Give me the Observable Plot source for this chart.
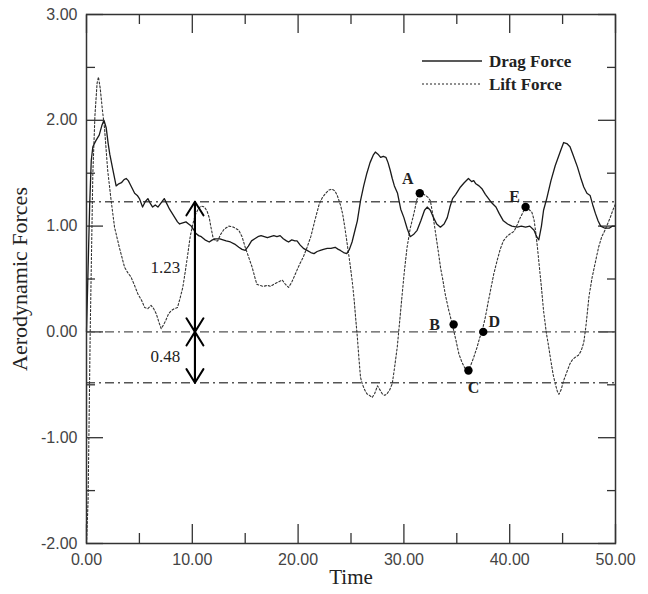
<!DOCTYPE html>
<html>
<head>
<meta charset="utf-8">
<script src="https://cdn.jsdelivr.net/npm/d3@7"></script>
<script src="https://cdn.jsdelivr.net/npm/@observablehq/plot@0.6"></script>
<style>
  html, body { margin: 0; padding: 0; background: #fff; }
  #chart { width: 648px; height: 594px; }
</style>
</head>
<body>
<div id="chart"></div>
<script>
// ---------- data ----------
const dragT = [0,0.15,0.3,0.45,0.6,0.9,1.2,1.45,1.65,1.86,2.05,2.2,2.5,2.8,3.05,3.3,3.55,3.75,3.95,4.1,4.35,4.55,4.8,5.0,5.15,5.3,5.55,5.8,6.0,6.25,6.5,6.75,7.05,7.35,7.6,7.85,8.1,8.35,8.6,8.8,9.1,9.4,9.65,9.9,10.1,10.35,10.6,10.85,11.2,11.6,11.9,12.2,12.6,12.9,13.2,13.6,14.0,14.4,14.7,15.0,15.3,15.6,15.9,16.2,16.5,16.8,17.1,17.4,17.7,18.0,18.3,18.6,18.9,19.1,19.4,19.7,19.9,20.2,20.5,20.85,21.2,21.5,21.8,22.1,22.4,22.75,23.1,23.5,23.8,24.0,24.3,24.6,24.85,25.1,25.4,25.6,25.9,26.2,26.5,26.8,27.1,27.3,27.55,27.8,28.05,28.3,28.5,28.7,28.9,29.1,29.4,29.7,30.0,30.3,30.6,30.9,31.25,31.6,31.95,32.2,32.5,32.8,33.1,33.45,33.8,34.1,34.35,34.6,34.9,35.35,35.7,36.1,36.4,36.6,36.8,37.1,37.4,37.7,38.0,38.3,38.7,39.0,39.4,39.8,40.2,40.7,41.1,41.5,41.9,42.3,42.55,42.75,43.0,43.2,43.5,43.9,44.3,44.8,45.1,45.4,45.7,46.0,46.4,46.7,47.0,47.3,47.6,47.85,48.1,48.35,48.6,49.0,49.4,49.7,50];
const dragV = [0,0.6,1.2,1.62,1.75,1.81,1.86,1.95,2.0,1.93,1.78,1.68,1.53,1.38,1.40,1.41,1.44,1.45,1.43,1.40,1.35,1.31,1.29,1.26,1.22,1.18,1.23,1.26,1.22,1.18,1.20,1.18,1.22,1.26,1.21,1.16,1.12,1.08,1.04,1.02,1.03,1.04,1.02,1.00,0.97,0.93,0.91,0.90,0.87,0.85,0.87,0.88,0.88,0.87,0.86,0.85,0.83,0.80,0.78,0.77,0.81,0.86,0.88,0.90,0.91,0.90,0.89,0.90,0.91,0.90,0.91,0.88,0.86,0.85,0.87,0.86,0.86,0.82,0.79,0.77,0.75,0.74,0.76,0.77,0.78,0.79,0.79,0.80,0.78,0.77,0.75,0.74,0.78,0.85,0.97,1.05,1.24,1.38,1.50,1.60,1.67,1.70,1.68,1.65,1.66,1.65,1.60,1.53,1.45,1.38,1.31,1.16,1.08,0.98,0.90,0.92,0.96,1.05,1.15,1.18,1.15,1.08,1.02,0.99,1.02,1.08,1.18,1.26,1.30,1.37,1.41,1.45,1.42,1.43,1.40,1.38,1.35,1.30,1.26,1.22,1.18,1.12,1.05,1.02,1.00,0.99,1.00,0.99,1.00,0.96,0.90,0.87,1.00,1.15,1.26,1.43,1.57,1.71,1.79,1.78,1.75,1.67,1.56,1.46,1.37,1.31,1.29,1.20,1.12,1.05,1.00,0.98,0.98,1.00,1.00];

const liftT = [0,0.15,0.25,0.35,0.45,0.6,0.8,1.0,1.13,1.3,1.5,1.7,2.0,2.33,2.65,3.1,3.6,3.9,4.2,4.5,4.85,5.2,5.5,5.8,6.1,6.35,6.6,6.85,7.06,7.3,7.5,7.75,8.0,8.3,8.6,8.85,9.1,9.35,9.58,9.8,10.05,10.3,10.5,10.8,11.15,11.4,11.6,11.8,11.94,12.2,12.4,12.67,13.0,13.45,13.9,14.4,14.7,15.0,15.35,15.66,15.9,16.1,16.4,16.7,17.1,17.4,17.7,18.1,18.5,18.8,19.1,19.4,19.75,20.1,20.5,20.85,21.2,21.6,22.0,22.3,22.6,22.9,23.2,23.5,23.7,24.0,24.2,24.4,24.6,24.8,24.95,25.15,25.3,25.45,25.6,25.75,25.9,26.06,26.3,26.5,26.75,27.0,27.25,27.5,27.75,27.95,28.2,28.4,28.65,28.9,29.1,29.37,29.6,29.84,30.05,30.3,30.6,30.95,31.2,31.4,31.7,32.04,32.3,32.5,32.75,33.0,33.25,33.46,33.7,33.9,34.2,34.56,34.9,35.2,35.5,35.75,36.0,36.3,36.6,36.9,37.15,37.4,37.7,38.0,38.2,38.5,38.8,39.1,39.4,39.8,40.1,40.4,40.7,41.0,41.3,41.5,41.8,42.1,42.3,42.45,42.6,42.75,43.0,43.2,43.45,43.7,43.9,44.1,44.3,44.5,44.65,44.85,45.1,45.4,45.7,45.95,46.2,46.5,46.75,47.0,47.2,47.5,47.8,48.1,48.4,48.7,49.0,49.25,49.5,49.75,50];
const liftV = [-2.0,-1.6,-0.8,0.0,0.6,1.5,2.05,2.35,2.41,2.3,2.1,1.93,1.53,1.24,0.99,0.80,0.61,0.56,0.52,0.45,0.36,0.30,0.23,0.22,0.25,0.22,0.17,0.09,0.03,0.07,0.11,0.17,0.20,0.22,0.23,0.32,0.42,0.58,0.74,0.90,1.02,1.11,1.15,1.19,1.18,1.14,1.08,0.97,0.90,0.86,0.86,0.92,0.97,1.00,0.99,0.96,0.90,0.80,0.70,0.61,0.52,0.45,0.44,0.43,0.44,0.43,0.45,0.47,0.49,0.45,0.42,0.47,0.55,0.63,0.71,0.80,0.90,1.06,1.21,1.27,1.31,1.34,1.35,1.33,1.29,1.20,1.12,1.00,0.86,0.72,0.61,0.45,0.30,0.12,-0.05,-0.25,-0.43,-0.49,-0.55,-0.585,-0.60,-0.62,-0.58,-0.51,-0.55,-0.585,-0.60,-0.585,-0.55,-0.49,-0.35,-0.145,0.10,0.36,0.58,0.80,0.98,1.12,1.24,1.31,1.31,1.29,1.27,1.24,1.10,0.93,0.76,0.61,0.48,0.36,0.22,0.076,-0.07,-0.21,-0.29,-0.34,-0.365,-0.32,-0.24,-0.15,-0.06,0.01,0.14,0.30,0.40,0.55,0.67,0.78,0.86,0.91,0.93,0.95,1.01,1.08,1.14,1.17,1.16,1.13,1.06,0.95,0.82,0.67,0.42,0.20,0.00,-0.15,-0.28,-0.40,-0.49,-0.56,-0.59,-0.55,-0.46,-0.38,-0.30,-0.26,-0.24,-0.22,-0.18,-0.10,0.05,0.34,0.52,0.66,0.80,0.90,0.96,1.02,1.08,1.15,1.21];

const refLevels = [1.23, 0, -0.48];
const arrowT = 10.25;
const gapLabels = ["1.23", "0.48"];
const gapLabelT = [7.45, 7.45];
const gapLabelV = [0.61, -0.23];

const pointNames = ["A", "B", "C", "D", "E"];
const pointT = [31.5, 34.7, 36.1, 37.5, 41.5];
const pointV = [1.31, 0.07, -0.365, 0.0, 1.18];

const xMajor = [0, 10, 20, 30, 40, 50];
const xMinor = [5, 15, 25, 35, 45];
const yMajor = [-2, -1, 0, 1, 2, 3];
const yMinor = [-1.5, -0.5, 0.5, 1.5, 2.5];

const seriesNames = ["Drag Force", "Lift Force"];
const xTitle = "Time";
const yTitle = "Aerodynamic Forces";

// ---------- build ----------
const drag = dragT.map((t, i) => ({t, v: dragV[i]}));
const lift = liftT.map((t, i) => ({t, v: liftV[i]}));
const points = pointNames.map((name, i) => ({name, t: pointT[i], v: pointV[i]}));
const gaps = gapLabels.map((s, i) => ({s, t: gapLabelT[i], v: gapLabelV[i]}));
const arrows = [
  {t: arrowT, a: refLevels[0], b: refLevels[1]},
  {t: arrowT, a: refLevels[1], b: refLevels[2]}
];
const labelOffsets = {A: [-12, -14], B: [-19, 0], C: [5, 17], D: [11, -10], E: [-11, -10]};

const fmt = d => d.toFixed(2);
const serif = "'Liberation Serif', 'Times New Roman', serif";
const sans = "'Liberation Sans', Arial, sans-serif";
const blank = () => "";
const tickStyle = {tickPadding: 0, tickFormat: blank, label: null, stroke: "#333", strokeWidth: 1.3};

const plot = Plot.plot({
  width: 648,
  height: 594,
  marginLeft: 86,
  marginRight: 33,
  marginTop: 14,
  marginBottom: 51,
  style: {fontFamily: sans, fontSize: "16px", background: "#fff", color: "#333"},
  x: {domain: [0, 50]},
  y: {domain: [-2, 3]},
  marks: [
    // tick labels
    Plot.axisX(xMajor, {anchor: "bottom", tickSize: 0, tickPadding: 10, tickFormat: fmt, label: null, fill: "#444", fontSize: 16}),
    Plot.axisY(yMajor, {anchor: "left", tickSize: 0, tickPadding: 9, tickFormat: fmt, label: null, fill: "#444", fontSize: 16}),
    // inward ticks
    Plot.axisX(xMajor, {anchor: "bottom", tickSize: 19, dy: -19, ...tickStyle}),
    Plot.axisX(xMinor, {anchor: "bottom", tickSize: 10, dy: -10, ...tickStyle}),
    Plot.axisX(xMajor, {anchor: "top", tickSize: 18, dy: 18, ...tickStyle}),
    Plot.axisX(xMinor, {anchor: "top", tickSize: 9, dy: 9, ...tickStyle}),
    Plot.axisY(yMajor, {anchor: "left", tickSize: 17, dx: 17, ...tickStyle}),
    Plot.axisY(yMinor, {anchor: "left", tickSize: 9, dx: 9, ...tickStyle}),
    Plot.axisY(yMajor, {anchor: "right", tickSize: 18, dx: -18, ...tickStyle}),
    Plot.axisY(yMinor, {anchor: "right", tickSize: 9, dx: -9, ...tickStyle}),
    // reference dash-dot lines
    Plot.ruleY(refLevels, {stroke: "#555", strokeWidth: 1.4, strokeDasharray: "9,4,2,4"}),
    // series
    Plot.line(lift, {x: "t", y: "v", stroke: "#333", strokeWidth: 1.1, strokeDasharray: "2,2"}),
    Plot.line(drag, {x: "t", y: "v", stroke: "#1a1a1a", strokeWidth: 1.3}),
    // double arrows
    Plot.arrow(arrows, {x1: "t", y1: "a", x2: "t", y2: "b", stroke: "#000", strokeWidth: 2, headLength: 12, headAngle: 64}),
    Plot.arrow(arrows, {x1: "t", y1: "b", x2: "t", y2: "a", stroke: "#000", strokeWidth: 2, headLength: 12, headAngle: 64}),
    Plot.text(gaps, {x: "t", y: "v", text: "s", fontFamily: serif, fontSize: 17, fill: "#222"}),
    // marked points
    Plot.dot(points, {x: "t", y: "v", r: 4.2, fill: "#000", stroke: "none"}),
    ...pointNames.map(n => Plot.text(points.filter(p => p.name === n), {
      x: "t", y: "v", text: "name", dx: labelOffsets[n][0], dy: labelOffsets[n][1],
      fontFamily: serif, fontSize: 16, fontWeight: "bold", fill: "#222"
    })),
    // axis titles
    Plot.text([xTitle], {frameAnchor: "bottom", dy: 40, textAnchor: "middle", fontFamily: serif, fontSize: 21, fill: "#222"}),
    Plot.text([yTitle], {frameAnchor: "left", dx: -67, textAnchor: "middle", rotate: -90, fontFamily: serif, fontSize: 22, fill: "#222"}),
    Plot.frame({stroke: "#333", strokeWidth: 1.5})
  ]
});

document.getElementById("chart").appendChild(plot);

// legend (inside plot area, top right)
const svg = d3.select(plot);
const lg = svg.append("g").attr("class", "legend").attr("text-anchor", "start");
const legendStyles = [{dash: null, width: 1.4}, {dash: "2,2", width: 1.1}];
seriesNames.forEach((name, i) => {
  const y = 61 + i * 23;
  lg.append("line")
    .attr("x1", 422).attr("x2", 482).attr("y1", y).attr("y2", y)
    .attr("stroke", "#222").attr("stroke-width", legendStyles[i].width)
    .attr("stroke-dasharray", legendStyles[i].dash);
  lg.append("text")
    .attr("x", 489).attr("y", y).attr("dy", "0.35em")
    .attr("text-anchor", "start")
    .attr("font-family", serif).attr("font-size", 17).attr("font-weight", "bold")
    .attr("fill", "#222")
    .text(name);
});
</script>
</body>
</html>
